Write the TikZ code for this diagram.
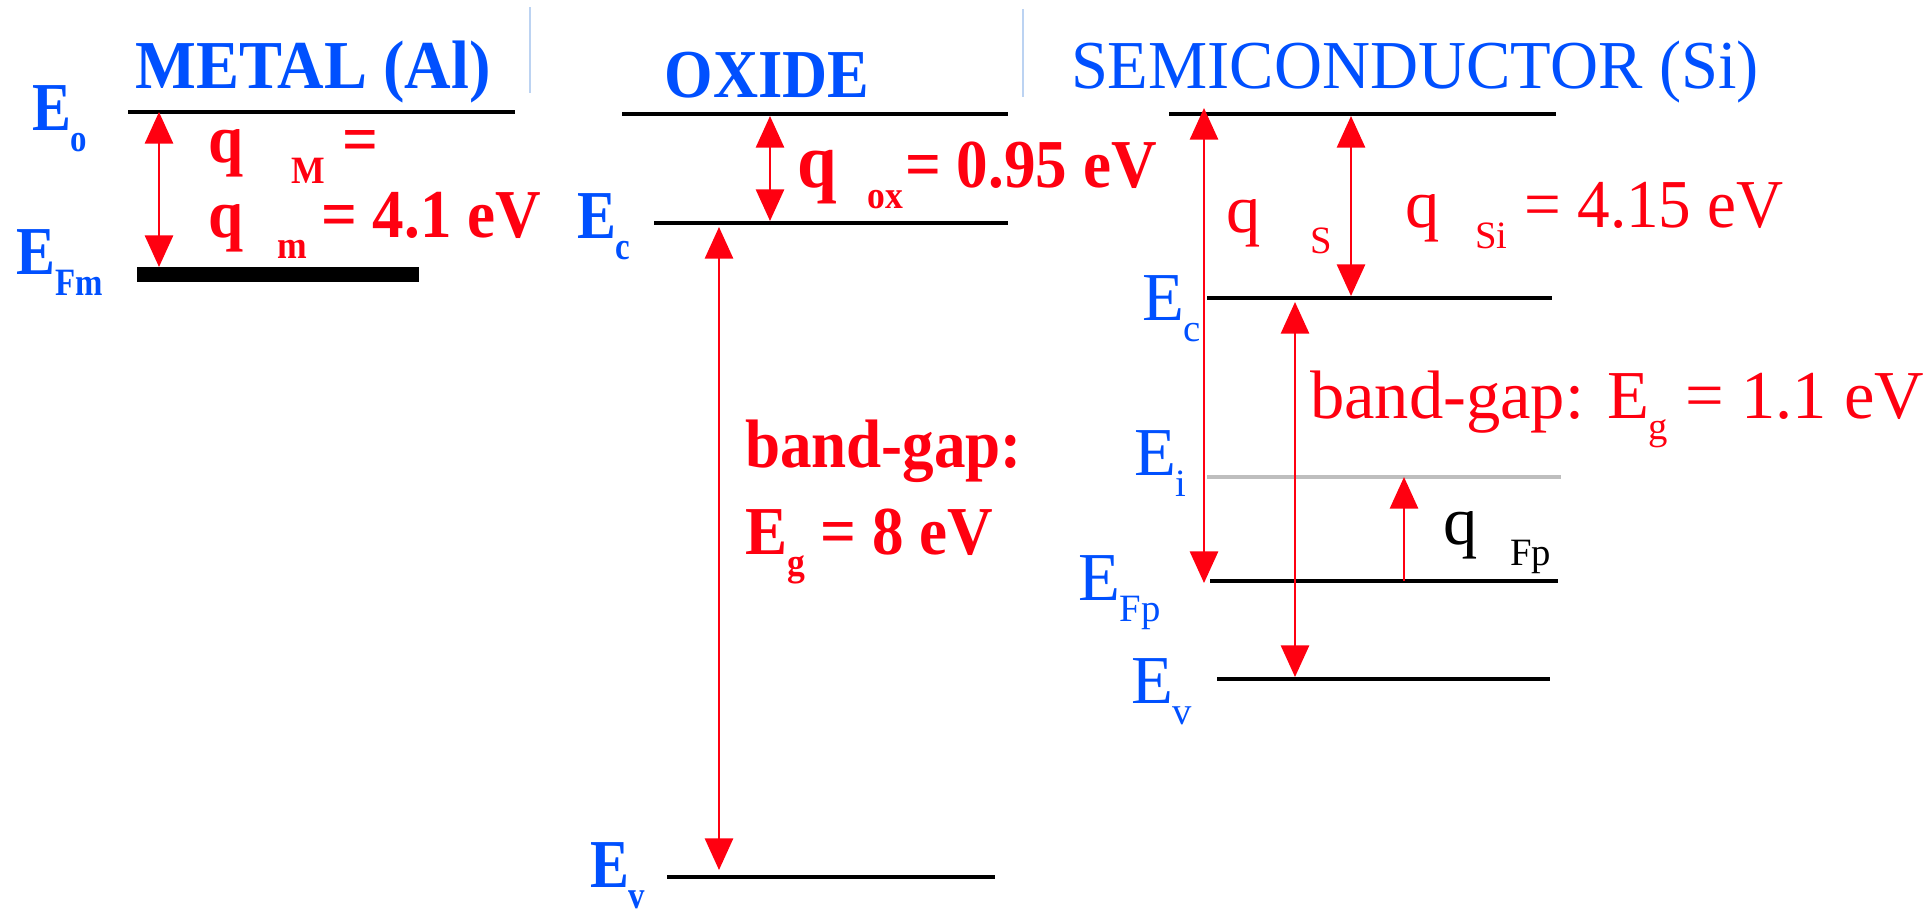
\documentclass[tikz,border=0pt]{standalone}
\usepackage{fontspec}
\usepackage{graphicx}
\setmainfont{Liberation Serif}
\usetikzlibrary{arrows.meta}
\definecolor{eblue}{HTML}{0050FF}
\definecolor{ered}{HTML}{FF0010}
\definecolor{sepblue}{HTML}{BCD3F2}
\definecolor{eigray}{HTML}{BEBEBE}
\newcommand{\lo}[1]{\raisebox{-6pt}{\fontsize{11}{13}\selectfont #1}}
\newcommand{\sq}[2][0.92]{\scalebox{#1}[1]{#2}}

\begin{document}
\begin{tikzpicture}[
  x=0.01cm, y=-0.01cm,
  every node/.style={inner sep=0pt,outer sep=0pt,font=\fontsize{19.5}{23}\selectfont},
  bf/.style={font=\fontsize{19.5}{23}\selectfont\bfseries},
  title/.style={anchor=base,text=eblue},
  lbl/.style={anchor=base west,text=eblue},
  val/.style={anchor=base west,text=ered},
  level/.style={line width=1.4pt},
  sep/.style={draw=sepblue,line width=0.6pt},
  arr/.style={{Triangle[width=8pt,length=9pt]}-{Triangle[width=8pt,length=9pt]},draw=ered,line width=0.7pt},
  uparr/.style={-{Triangle[width=8pt,length=9pt]},draw=ered,line width=0.7pt}
]
\useasboundingbox (0,0) rectangle (1928,912);

% titles
\node[title,bf] (metal) at (313,88) {\sq[0.94]{METAL (Al)}};
\node[title,bf] (oxide) at (767,97) {\sq[0.91]{OXIDE}};
\node[title] (semi) at (1415,88) {\sq[0.97]{SEMICONDUCTOR (Si)}};
\draw[sep] (530,7) -- (530,93);
\draw[sep] (1023,9) -- (1023,97);

% metal levels
\draw[level] (128,112) -- (515,112);
\draw[line width=4.3pt] (137,274.5) -- (419,274.5);
\node[lbl,bf] (E0) at (32,130) {\sq[0.85]{E\lo{o}}};
\node[lbl,bf] (EFm) at (17,274) {\sq[0.85]{E\lo{Fm}}};
\coordinate (mTop) at (159,112);
\coordinate (mBot) at (159,267);
\draw[arr] (mTop) -- (mBot);
\node[val,bf] (phiM) at (208,162) {\sq{q\hspace{15pt}\lo{M}\hspace{5.4pt}=}};
\node[val,bf] (phim) at (208,237) {\sq{q\hspace{10.7pt}\lo{m}\hspace{4.3pt}= 4.1 eV}};

% oxide levels
\draw[level] (622,114) -- (1008,114);
\draw[level] (654,223) -- (1008,223);
\draw[level] (667,877) -- (995,877);
\node[lbl,bf] (oxEc) at (577,238) {\sq[0.85]{E\lo{c}}};
\node[lbl,bf] (oxEv) at (590,887) {\sq[0.85]{E\lo{v}}};
\coordinate (oxA) at (770,116);
\coordinate (oxB) at (770,221);
\coordinate (oxC) at (719,227);
\coordinate (oxD) at (719,870);
\draw[arr] (oxA) -- (oxB);
\draw[arr] (oxC) -- (oxD);
\node[val,bf] (phiox) at (797,187) {\sq{{\fontsize{22}{26}\selectfont q}\hspace{9.7pt}\lo{ox}\hspace{0.5pt}= 0.95 eV}};
\node[val,bf] (gapox) at (745,467) {\sq{band-gap:}};
\node[val,bf] (Egox) at (745,554) {\sq{E\lo{g} = 8 eV}};

% semiconductor levels
\draw[level] (1169,114) -- (1556,114);
\draw[level] (1207,298) -- (1552,298);
\draw[line width=1.4pt,draw=eigray] (1207,477) -- (1561,477);
\draw[level] (1210,581) -- (1558,581);
\draw[level] (1217,679) -- (1550,679);
\node[lbl] (siEc) at (1142,320) {E\lo{c}};
\node[lbl] (siEi) at (1134,475) {E\lo{i}};
\node[lbl] (siEFp) at (1078,600) {E\lo{Fp}};
\node[lbl] (siEv) at (1131,703) {E\lo{v}};
\coordinate (siA) at (1204,108);
\coordinate (siB) at (1204,583);
\coordinate (siC) at (1351,116);
\coordinate (siD) at (1351,296);
\coordinate (siE) at (1295,302);
\coordinate (siF) at (1295,677);
\coordinate (fpA) at (1404,581);
\coordinate (fpB) at (1404,477);
\draw[arr] (siA) -- (siB);
\draw[arr] (siC) -- (siD);
\draw[arr] (siE) -- (siF);
\draw[uparr] (fpA) -- (fpB);
\node[val] (phiS) at (1226,232) {q\hspace{14.2pt}\lo{S}};
\node[val] (phiSi) at (1405,227) {q\hspace{10.2pt}\lo{Si} \sq[0.95]{= 4.15 eV}};
\node[val] (gapsi) at (1310,418) {band-gap: E\lo{g} = 1.1 eV};
\node[anchor=base west] (phiFp) at (1443,544) {q\hspace{9.4pt}\lo{Fp}};
\end{tikzpicture}
\end{document}
